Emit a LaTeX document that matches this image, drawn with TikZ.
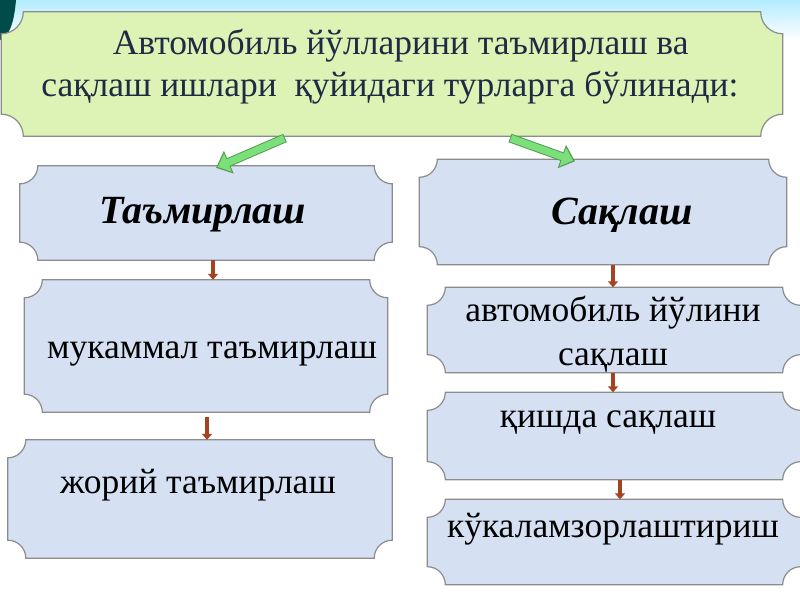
\documentclass[tikz,border=0pt]{standalone}
\usepackage{fontspec}
\setmainfont{Liberation Serif}
\usetikzlibrary{calc,arrows.meta,backgrounds}
\definecolor{plq}{HTML}{D5E0F2}
\definecolor{topg}{HTML}{DDF3B5}
\definecolor{edge}{HTML}{8C8C8C}
\definecolor{brn}{HTML}{A3431F}
\definecolor{grn}{HTML}{7BE07A}
\definecolor{navy}{HTML}{1F2A44}
\tikzset{
  box/.style={minimum width=#1, inner sep=0pt, draw=none},
  plaq/.style={draw=edge, line width=1.2pt},
  txt/.style={font=\fontsize{35.5}{42}\selectfont, align=center},
  hdr/.style={font=\fontsize{40}{46}\selectfont\bfseries\itshape},
  darr/.style={draw=brn, line width=4pt, -{Triangle[length=6pt,width=10pt]}},
  garr/.style={draw=grn!70!black, line width=9pt, -{Triangle[length=14pt,width=24pt]}},
  garri/.style={draw=grn, line width=7pt, -{Triangle[length=11pt,width=19pt]}},
}
\newcommand{\myplaque}[3]{% name, radius, fill
  \path[plaq, fill=#3] ($(#1.north east)+(-#2,0)$) arc[start angle=180,end angle=270,radius=#2]
   -- ($(#1.south east)+(0,#2)$) arc[start angle=90,end angle=180,radius=#2]
   -- ($(#1.south west)+(#2,0)$) arc[start angle=0,end angle=90,radius=#2]
   -- ($(#1.north west)+(0,-#2)$) arc[start angle=270,end angle=360,radius=#2] -- cycle;}
\begin{document}
\begin{tikzpicture}[x=1pt,y=1pt]
\useasboundingbox (0,0) rectangle (800,600);
% boxes
\node[box=781pt, minimum height=124pt] (top) at (392,526) {};
\node[box=372pt, minimum height=94pt] (tam) at (206,387) {};
\node[box=367pt, minimum height=105pt] (saq) at (603,388) {};
\node[box=363pt, minimum height=132pt] (muk) at (206,254) {};
\node[box=384pt, minimum height=118pt] (jor) at (200,101) {};
\node[box=373pt, minimum height=85pt] (avt) at (614,270) {};
\node[box=373pt, minimum height=87pt] (qish) at (614,164) {};
\node[box=373pt, minimum height=85pt] (kuk) at (614,58) {};
\begin{scope}[on background layer]
\fill[white] (0,0) rectangle (800,560);
\shade[top color=blue!25!cyan!30, bottom color=white] (0,560) rectangle (800,600);
\fill[teal!60!black] (0,600) -- (0,560) .. controls (8,562) and (14,575) .. (16,600) -- cycle;
\myplaque{top}{22pt}{topg}
\myplaque{tam}{18pt}{plq}
\myplaque{saq}{18pt}{plq}
\myplaque{muk}{18pt}{plq}
\myplaque{jor}{18pt}{plq}
\myplaque{avt}{18pt}{plq}
\myplaque{qish}{18pt}{plq}
\myplaque{kuk}{18pt}{plq}
\end{scope}
% texts
\node[txt, text=navy] (ttop) at (390,533) {\hspace*{0.6em}Автомобиль йўлларини таъмирлаш ва\\ сақлаш ишлари \ қуйидаги турларга бўлинади:};
\node[hdr] (ttam) at (203,385) {Таъмирлаш};
\node[hdr] (tsaq) at (622,385) {Сақлаш};
\node[txt] (tmuk) at (212,246) {мукаммал таъмирлаш};
\node[txt] (tjor) at (198,115) {жорий таъмирлаш};
\node[txt, font=\fontsize{35.5}{44}\selectfont] (tavt) at (613,266) {автомобиль йўлини\\сақлаш};
\node[txt] (tqish) at (608,177) {қишда сақлаш};
\node[txt] (tkuk) at (613,71) {кўкаламзорлаштириш};
% arrows
\coordinate (g1) at (285,462); \coordinate (g2) at (510,462);
\draw[garr] (g1) -- ($(tam.north)+(10,-2)$);
\draw[garri, shorten >=2pt, shorten <=1pt] (g1) -- ($(tam.north)+(10,-2)$);
\draw[garr] (g2) -- ($(saq.north)+(-28,-2)$);
\draw[garri, shorten >=2pt, shorten <=1pt] (g2) -- ($(saq.north)+(-28,-2)$);
\draw[darr] ($(tam.south)+(7,0)$) -- ($(muk.north)+(7,0)$);
\draw[darr] ($(muk.south)+(1,-5)$) -- ($(jor.north)+(7,0)$);
\draw[darr] ($(saq.south)+(10,0)$) -- ($(avt.north)+(-1,0)$);
\draw[darr] ($(avt.south)+(-1,0)$) -- ($(qish.north)+(-1,0)$);
\draw[darr] ($(qish.south)+(6,0)$) -- ($(kuk.north)+(6,0)$);
\end{tikzpicture}
\end{document}
